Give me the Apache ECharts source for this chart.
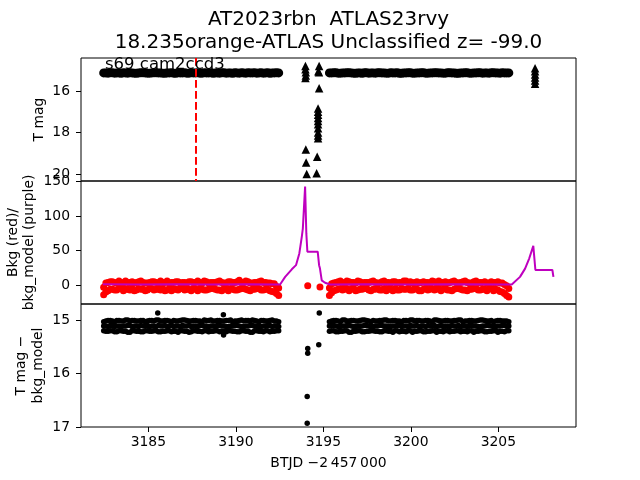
<!DOCTYPE html>
<html><head><meta charset="utf-8">
<script src="https://cdn.jsdelivr.net/npm/echarts@6/dist/echarts.min.js"></script>
<style>html,body{margin:0;padding:0;background:#fff}#c{width:640px;height:480px}</style>
</head><body><div id="c"></div>
<script>
// ---- data ----
const timeA = [3182.45,3182.7,3182.95,3183.2,3183.45,3183.7,3183.95,3184.2,3184.45,3184.7,3184.95,3185.2,3185.45,3185.7,3185.95,3186.2,3186.45,3186.7,3186.95,3187.2,3187.45,3187.7,3187.95,3188.2,3188.45,3188.7,3188.95,3189.2,3189.45,3189.7,3189.95,3190.2,3190.45,3190.7,3190.95,3191.2,3191.45,3191.7,3191.95,3192.2,3192.45];
const timeA2 = [3182.575,3182.825,3183.075,3183.325,3183.575,3183.825,3184.075,3184.325,3184.575,3184.825,3185.075,3185.325,3185.575,3185.825,3186.075,3186.325,3186.575,3186.825,3187.075,3187.325,3187.575,3187.825,3188.075,3188.325,3188.575,3188.825,3189.075,3189.325,3189.575,3189.825,3190.075,3190.325,3190.575,3190.825,3191.075,3191.325,3191.575,3191.825,3192.075,3192.325];
const timeB = [3195.35,3195.6,3195.85,3196.1,3196.35,3196.6,3196.85,3197.1,3197.35,3197.6,3197.85,3198.1,3198.35,3198.6,3198.85,3199.1,3199.35,3199.6,3199.85,3200.1,3200.35,3200.6,3200.85,3201.1,3201.35,3201.6,3201.85,3202.1,3202.35,3202.6,3202.85,3203.1,3203.35,3203.6,3203.85,3204.1,3204.35,3204.6,3204.85,3205.1,3205.35,3205.6];
const timeB2 = [3195.475,3195.725,3195.975,3196.225,3196.475,3196.725,3196.975,3197.225,3197.475,3197.725,3197.975,3198.225,3198.475,3198.725,3198.975,3199.225,3199.475,3199.725,3199.975,3200.225,3200.475,3200.725,3200.975,3201.225,3201.475,3201.725,3201.975,3202.225,3202.475,3202.725,3202.975,3203.225,3203.475,3203.725,3203.975,3204.225,3204.475,3204.725,3204.975,3205.225,3205.475];

// panel 1: T mag (circles)
const magA = [15.13,15.14,15.12,15.13,15.15,15.13,15.12,15.14,15.13,15.12,15.14,15.13,15.12,15.13,15.15,15.13,15.14,15.12,15.13,15.14,15.12,15.13,15.14,15.12,15.13,15.15,15.13,15.12,15.14,15.13,15.12,15.14,15.13,15.12,15.13,15.14,15.12,15.13,15.15,15.13,15.13];
const magA2 = [15.13,15.12,15.14,15.13,15.12,15.14,15.13,15.15,15.12,15.13,15.14,15.12,15.13,15.14,15.13,15.12,15.15,15.13,15.12,15.14,15.13,15.12,15.14,15.13,15.12,15.13,15.14,15.12,15.13,15.15,15.13,15.12,15.14,15.13,15.12,15.13,15.14,15.12,15.13,15.12];
const magB = [15.13,15.12,15.14,15.13,15.12,15.13,15.15,15.13,15.12,15.14,15.13,15.12,15.13,15.14,15.12,15.13,15.15,15.13,15.12,15.14,15.13,15.12,15.14,15.13,15.12,15.13,15.14,15.12,15.13,15.15,15.13,15.12,15.14,15.13,15.12,15.14,15.13,15.12,15.13,15.14,15.13,15.13];
const magB2 = [15.13,15.12,15.14,15.13,15.12,15.14,15.13,15.15,15.12,15.13,15.14,15.12,15.13,15.14,15.13,15.12,15.15,15.13,15.12,15.14,15.13,15.12,15.14,15.13,15.12,15.13,15.14,15.12,15.13,15.15,15.13,15.12,15.14,15.13,15.12,15.13,15.14,15.12,15.13,15.12,15.13];
// panel 1: triangles (upper limits)
const triX = [3193.98,3193.98,3194.0,3194.0,3193.98,3194.0,3194.02,3194.05,3194.76,3194.72,3194.75,3194.76,3194.7,3194.7,3194.7,3194.7,3194.7,3194.7,3194.7,3194.7,3194.7,3194.7,3194.65,3194.62,3207.1,3207.1,3207.1,3207.1,3207.1,3207.1];
const triY = [14.8,14.95,15.1,15.25,15.37,18.82,19.45,20.0,14.8,15.05,15.1,15.87,16.85,17.0,17.15,17.3,17.45,17.6,17.8,18.0,18.15,18.28,19.17,19.97,14.9,15.05,15.2,15.35,15.5,15.65];
const refLineX = [3187.71];

// panel 2: background (red) and model (purple)
const bkgHiA = [-3,4,5,3,4,6,4,3,5,4,3,5,4,6,4,3,4,5,4,3,5,4,4,6,3,4,5,4,3,5,4,7,4,5,3,4,6,4,3,2,-4];
const bkgLoA = [-14,-8,-6,-7,-5,-6,-7,-8,-5,-6,-7,-5,-6,-7,-8,-5,-6,-7,-5,-6,-8,-6,-5,-7,-6,-5,-7,-8,-6,-5,-7,-6,-5,-7,-6,-5,-7,-6,-8,-10,-15];
const bkgHiA2 = [3,5,4,6,3,4,5,4,6,3,4,5,3,4,6,4,5,3,4,5,4,6,3,5,4,4,6,3,5,4,5,4,6,3,4,5,4,3,2,-2];
const bkgLoA2 = [-10,-6,-7,-5,-8,-6,-5,-7,-6,-8,-5,-7,-6,-5,-7,-8,-6,-5,-7,-6,-5,-8,-6,-7,-5,-6,-7,-5,-8,-6,-7,-5,-6,-8,-6,-5,-7,-6,-9,-12];
const bkgHiB = [-4,3,5,4,6,4,3,5,4,4,6,3,5,4,3,5,4,6,4,3,5,4,4,3,5,6,4,3,5,4,4,6,3,5,4,4,3,5,4,3,1,-5];
const bkgLoB = [-15,-8,-6,-7,-5,-6,-8,-6,-5,-7,-6,-5,-7,-8,-6,-5,-7,-6,-5,-7,-6,-8,-5,-6,-7,-5,-6,-7,-8,-5,-6,-7,-6,-5,-7,-6,-8,-5,-6,-9,-12,-17];
const bkgHiB2 = [2,4,6,3,5,4,6,3,4,5,4,3,6,4,5,3,4,6,5,4,3,5,4,6,3,4,5,4,6,3,5,4,3,6,4,5,3,4,5,3,-1];
const bkgLoB2 = [-11,-7,-5,-6,-8,-5,-7,-6,-5,-8,-6,-7,-5,-6,-8,-7,-5,-6,-7,-5,-8,-6,-7,-5,-6,-8,-5,-7,-6,-5,-7,-8,-6,-5,-7,-6,-5,-8,-7,-10,-15];
const bkgGapX = [3194.11,3194.81];
const bkgGapY = [-1,-2.5];
const modelX = [3182.4,3184.5,3186.5,3188.5,3190.5,3192.53,3192.82,3193.2,3193.44,3193.63,3193.77,3193.83,3193.9,3193.96,3194.01,3194.03,3194.09,3194.68,3194.76,3194.81,3194.91,3195.1,3195.39,3197.5,3200.0,3202.5,3205.77,3206.24,3206.53,3206.77,3207.0,3207.12,3208.09,3208.15];
const modelY = [1.5,1,1.5,1,1.5,1,12,23,29,46,70,82,80,143,143,75,48.5,48.5,29,24,7,3.4,1,1.5,1,1.5,1,12,24,39,57,22,22,12];

// panel 3: T mag - bkg_model
const diffHiA = [15.03,15.01,15.02,15.01,15.02,15.00,15.02,15.01,15.02,15.01,15.02,15.01,15.00,15.02,15.01,15.02,15.01,15.02,15.00,15.01,15.02,15.01,15.02,15.00,15.01,15.02,15.01,15.02,15.01,15.00,15.02,15.01,15.02,15.01,15.00,15.02,15.01,15.02,15.01,15.02,15.03];
const diffMidA = [15.11,15.12,15.10,15.11,15.12,15.11,15.10,15.11,15.12,15.11,15.10,15.11,15.12,15.11,15.10,15.11,15.12,15.11,15.10,15.11,15.12,15.11,15.10,15.11,15.12,15.11,15.10,15.11,15.12,15.11,15.10,15.11,15.12,15.11,15.10,15.11,15.12,15.11,15.10,15.11,15.12];
const diffLoA = [15.20,15.21,15.20,15.22,15.20,15.21,15.23,15.20,15.21,15.22,15.20,15.21,15.20,15.22,15.21,15.20,15.21,15.23,15.20,15.21,15.22,15.20,15.21,15.20,15.22,15.21,15.20,15.21,15.22,15.20,15.21,15.22,15.20,15.21,15.23,15.20,15.21,15.20,15.22,15.21,15.20];
const diffHiA2 = [15.02,15.01,15.03,15.01,15.02,15.00,15.01,15.02,15.01,15.03,15.01,15.02,15.00,15.02,15.01,15.03,15.02,15.01,15.00,15.02,15.01,15.02,15.03,15.01,15.00,15.02,15.01,15.02,15.01,15.03,15.02,15.00,15.01,15.02,15.01,15.03,15.01,15.02,15.00,15.02];
const diffMidA2 = [15.11,15.10,15.12,15.11,15.11,15.10,15.12,15.11,15.10,15.11,15.12,15.11,15.10,15.11,15.12,15.10,15.11,15.12,15.11,15.10,15.11,15.12,15.10,15.11,15.11,15.12,15.10,15.11,15.12,15.11,15.10,15.12,15.11,15.10,15.11,15.12,15.11,15.10,15.12,15.11];
const diffLoA2 = [15.21,15.20,15.22,15.20,15.21,15.23,15.20,15.21,15.22,15.20,15.21,15.20,15.22,15.21,15.20,15.22,15.21,15.20,15.21,15.23,15.20,15.21,15.22,15.20,15.21,15.20,15.22,15.21,15.20,15.21,15.22,15.20,15.21,15.23,15.20,15.21,15.22,15.20,15.21,15.20];
const diffHiB = [15.03,15.01,15.02,15.00,15.02,15.01,15.02,15.01,15.00,15.02,15.01,15.02,15.01,15.00,15.02,15.01,15.02,15.01,15.02,15.00,15.01,15.02,15.01,15.02,15.00,15.01,15.02,15.01,15.02,15.01,15.00,15.02,15.01,15.02,15.01,15.00,15.02,15.01,15.02,15.01,15.02,15.03];
const diffMidB = [15.11,15.10,15.12,15.11,15.10,15.11,15.12,15.11,15.10,15.11,15.12,15.11,15.10,15.11,15.12,15.11,15.10,15.11,15.12,15.11,15.10,15.11,15.12,15.11,15.10,15.11,15.12,15.11,15.10,15.11,15.12,15.11,15.10,15.11,15.12,15.11,15.10,15.11,15.12,15.11,15.10,15.11];
const diffLoB = [15.21,15.20,15.22,15.21,15.20,15.23,15.21,15.20,15.22,15.21,15.20,15.21,15.22,15.20,15.21,15.20,15.22,15.21,15.20,15.23,15.21,15.20,15.22,15.21,15.20,15.21,15.22,15.20,15.21,15.20,15.22,15.21,15.20,15.23,15.21,15.20,15.22,15.21,15.20,15.21,15.22,15.20];
const diffHiB2 = [15.02,15.01,15.03,15.00,15.02,15.01,15.02,15.00,15.01,15.03,15.02,15.01,15.00,15.02,15.01,15.02,15.03,15.01,15.00,15.02,15.01,15.02,15.01,15.03,15.00,15.02,15.01,15.02,15.01,15.00,15.03,15.02,15.01,15.02,15.00,15.01,15.02,15.03,15.01,15.02,15.02];
const diffMidB2 = [15.10,15.11,15.12,15.11,15.10,15.12,15.11,15.11,15.10,15.12,15.11,15.10,15.11,15.12,15.11,15.10,15.12,15.11,15.10,15.11,15.12,15.11,15.10,15.11,15.12,15.10,15.11,15.12,15.11,15.10,15.11,15.12,15.10,15.11,15.12,15.11,15.10,15.12,15.11,15.10,15.11];
const diffLoB2 = [15.20,15.22,15.21,15.20,15.23,15.21,15.20,15.22,15.21,15.20,15.21,15.22,15.20,15.21,15.23,15.20,15.21,15.22,15.20,15.21,15.20,15.22,15.21,15.20,15.23,15.21,15.20,15.22,15.21,15.20,15.21,15.22,15.20,15.21,15.20,15.22,15.21,15.20,15.23,15.21,15.20];
const diffOutX = [3185.54,3189.29,3189.3,3194.11,3194.11,3194.08,3194.08,3194.77,3194.74];
const diffOutY = [14.87,14.9,15.28,15.53,15.62,16.43,16.93,14.87,15.46];

// tick labels
const xTicks = [3185,3190,3195,3200,3205];
const yTicks1 = [16,18,20];
const yTicks2 = [0,50,100,150];
const yTicks3 = [15,16,17];

// ---- chart ----
const F = '"DejaVu Sans", sans-serif';
function pairs(t, v){ const out=[]; for(let i=0;i<t.length;i++){ if(v[i]!==undefined) out.push([t[i], v[i]]); } return out; }
const xMin = 3181.154, xMax = 3209.44;
function xAx(idx, show){
  return {type:'value', gridIndex:idx, min:xMin, max:xMax,
    axisLine:{show:false}, splitLine:{show:false},
    axisTick:{show:show, length:5, customValues:xTicks, lineStyle:{color:'#000', width:1}},
    axisLabel:{show:show, customValues:xTicks, margin:8, color:'#000', fontSize:13.9, fontFamily:F, formatter:v=>String(v)}};
}
function yAx(idx, min, max, ticks, inverse){
  return {type:'value', gridIndex:idx, min:min, max:max, inverse:inverse,
    axisLine:{show:false}, splitLine:{show:false},
    axisTick:{show:true, length:5, customValues:ticks, lineStyle:{color:'#000', width:1}},
    axisLabel:{customValues:ticks, margin:11, color:'#000', fontSize:13.9, fontFamily:F, formatter:v=>String(v)}};
}
const gridBase = {left:81, width:495, show:true, borderColor:'#000', borderWidth:1, backgroundColor:'transparent'};
const solid = c => ({color:c, opacity:1, borderWidth:0, borderColor:c, shadowBlur:0});
const sc = (o) => Object.assign({type:'scatter', large:false, progressive:0, emphasis:{disabled:true}, silent:true}, o);
const chart = echarts.init(document.getElementById('c'), null, {renderer:'canvas'});
chart.setOption({
  animation:false,
  backgroundColor:'#fff',
  grid:[
    Object.assign({top:58, height:123}, gridBase),
    Object.assign({top:181, height:123}, gridBase),
    Object.assign({top:304, height:123}, gridBase)
  ],
  xAxis:[xAx(0,false), xAx(1,false), xAx(2,true)],
  yAxis:[yAx(0,14.41,20.34,yTicks1,true), yAx(1,-27.3,151,yTicks2,false), yAx(2,14.70,17.0,yTicks3,true)],
  series:[
    sc({xAxisIndex:0, yAxisIndex:0, symbol:'circle', symbolSize:9, itemStyle:solid('#000'),
     data: [].concat(pairs(timeA, magA), pairs(timeA2, magA2), pairs(timeB, magB), pairs(timeB2, magB2)),
     markLine:{silent:true, symbol:'none', label:{show:false}, lineStyle:{color:'#ff0000', width:2, type:[7.7,3.3], opacity:1},
       data: refLineX.map(v=>({xAxis:v}))}}),
    sc({xAxisIndex:0, yAxisIndex:0, symbol:'triangle', symbolSize:8.5, itemStyle:solid('#000'),
     data: pairs(triX, triY)}),
    sc({xAxisIndex:1, yAxisIndex:1, symbol:'circle', symbolSize:7, itemStyle:solid('#ff0000'),
     data: [].concat(pairs(timeA, bkgHiA), pairs(timeA, bkgLoA), pairs(timeA2, bkgHiA2), pairs(timeA2, bkgLoA2),
                     pairs(timeB, bkgHiB), pairs(timeB, bkgLoB), pairs(timeB2, bkgHiB2), pairs(timeB2, bkgLoB2), pairs(bkgGapX, bkgGapY))}),
    {type:'line', xAxisIndex:1, yAxisIndex:1, showSymbol:false, symbol:'none', z:5, silent:true,
     lineStyle:{color:'#bf00bf', width:2, opacity:1}, data: pairs(modelX, modelY)},
    sc({xAxisIndex:2, yAxisIndex:2, symbol:'circle', symbolSize:5.5, itemStyle:solid('#000'),
     data: [].concat(pairs(timeA, diffHiA), pairs(timeA, diffMidA), pairs(timeA, diffLoA),
                     pairs(timeA2, diffHiA2), pairs(timeA2, diffMidA2), pairs(timeA2, diffLoA2),
                     pairs(timeB, diffHiB), pairs(timeB, diffMidB), pairs(timeB, diffLoB),
                     pairs(timeB2, diffHiB2), pairs(timeB2, diffMidB2), pairs(timeB2, diffLoB2),
                     pairs(diffOutX, diffOutY))})
  ],
  graphic:[
    {type:'text', x:328.5, y:20, z:100, style:{text:'AT2023rbn  ATLAS23rvy', fontSize:20, fontFamily:F, fill:'#000', align:'center', verticalAlign:'middle', textAlign:'center', textVerticalAlign:'middle'}},
    {type:'text', x:328.5, y:43, z:100, style:{text:'18.235orange-ATLAS Unclassified z= -99.0', fontSize:20, fontFamily:F, fill:'#000', align:'center', verticalAlign:'middle', textAlign:'center', textVerticalAlign:'middle'}},
    {type:'text', x:105, y:64.5, z:100, style:{text:'s69 cam2ccd3', fontSize:16.5, fontFamily:F, fill:'#000', align:'left', verticalAlign:'middle', textAlign:'left', textVerticalAlign:'middle'}},
    {type:'text', x:39, y:119.5, rotation:Math.PI/2, z:100, style:{text:'T mag', fontSize:13.9, fontFamily:F, fill:'#000', align:'center', verticalAlign:'middle', textAlign:'center', textVerticalAlign:'middle'}},
    {type:'text', x:21, y:242.5, rotation:Math.PI/2, z:100, style:{text:'Bkg (red)/\nbkg_model (purple)', fontSize:13.9, lineHeight:16, fontFamily:F, fill:'#000', align:'center', verticalAlign:'middle', textAlign:'center', textVerticalAlign:'middle'}},
    {type:'text', x:30, y:365.5, rotation:Math.PI/2, z:100, style:{text:'T mag \u2212\nbkg_model', fontSize:13.9, lineHeight:17, fontFamily:F, fill:'#000', align:'center', verticalAlign:'middle', textAlign:'center', textVerticalAlign:'middle'}},
    {type:'text', x:328.5, y:463, z:100, style:{text:'BTJD \u22122\u2009457\u2009000', fontSize:13.9, fontFamily:F, fill:'#000', align:'center', verticalAlign:'middle', textAlign:'center', textVerticalAlign:'middle'}}
  ]
});
</script></body></html>
